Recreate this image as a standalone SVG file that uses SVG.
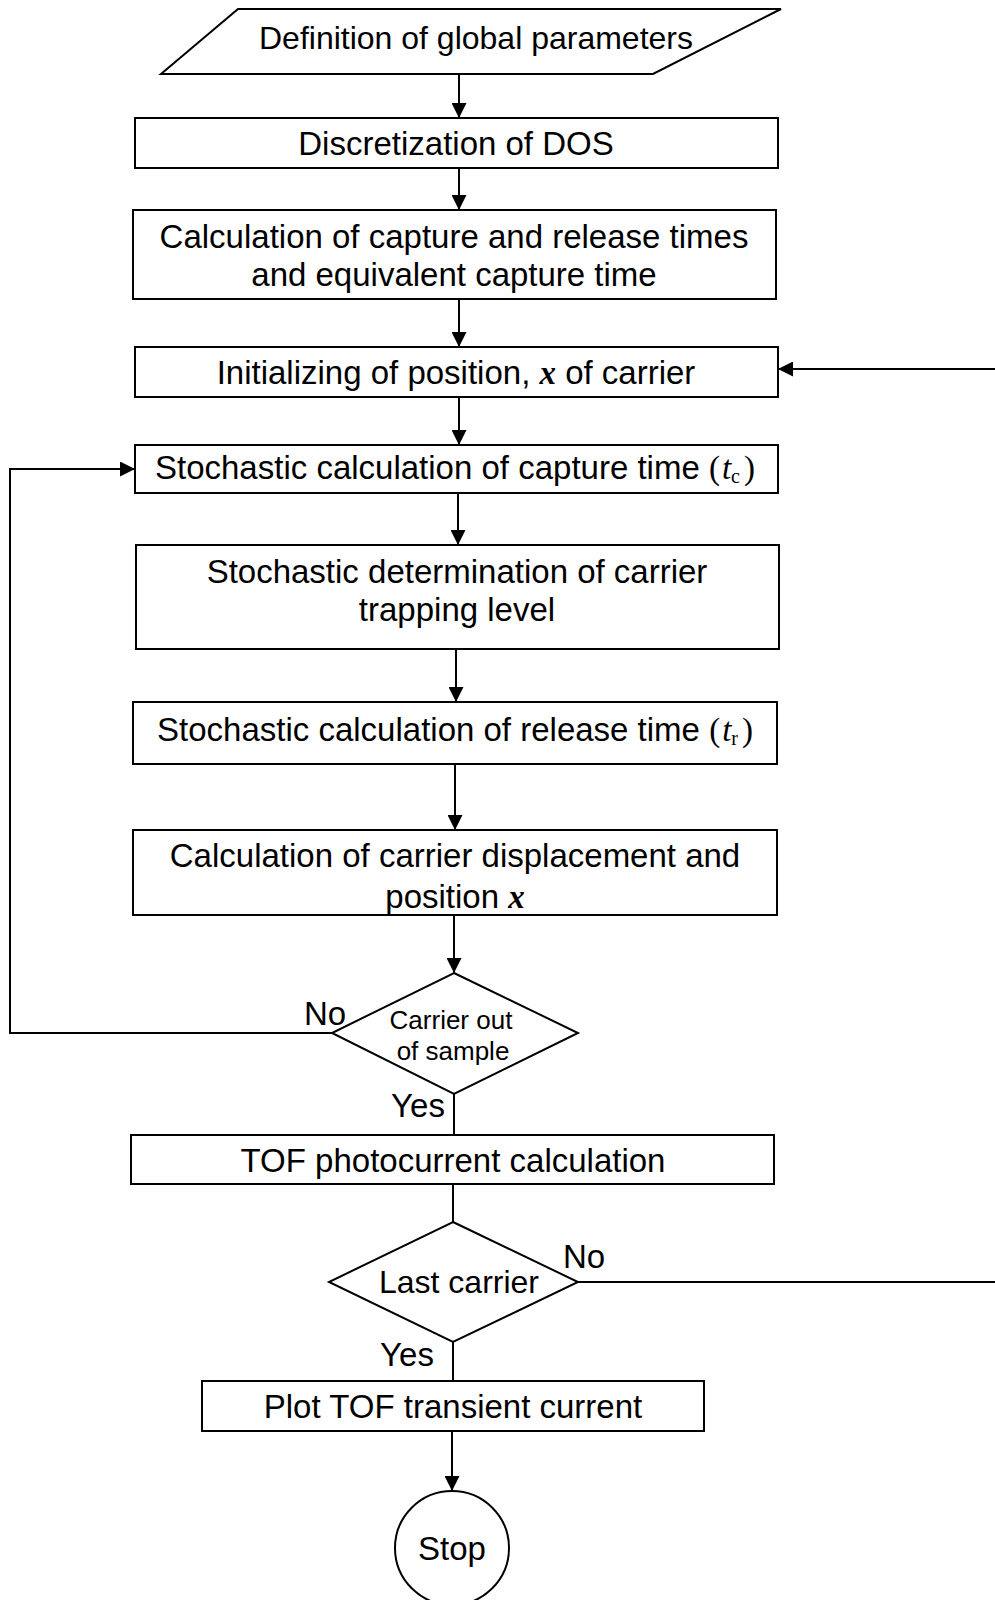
<svg xmlns="http://www.w3.org/2000/svg" width="995" height="1600" viewBox="0 0 995 1600">
  <style>
    .box { fill: #fff; stroke: #000; stroke-width: 2; }
    .line { fill: none; stroke: #000; stroke-width: 2; }
    .arrow { fill: none; stroke: #000; stroke-width: 2; marker-end: url(#head); }
    text { font-family: "Liberation Sans", Arial, sans-serif; font-size: 33px; fill: #000; text-anchor: middle; }
    .small { font-size: 26px; }
    .var { font-family: "Liberation Serif", "Times New Roman", serif; font-style: italic; font-weight: bold; }
    .mvar { font-family: "Liberation Serif", "Times New Roman", serif; font-style: italic; }
    .msub { font-family: "Liberation Serif", "Times New Roman", serif; font-size: 20px; }
    .paren { font-family: "Liberation Serif", "Times New Roman", serif; }
  </style>
  <defs>
    <marker id="head" markerWidth="15" markerHeight="15" refX="15" refY="7.5" orient="auto" markerUnits="userSpaceOnUse">
      <path d="M0,0 L15,7.5 L0,15 Z" fill="#000"/>
    </marker>
  </defs>

  <rect width="995" height="1600" fill="#fff"/>

  <!-- connectors -->
  <g id="connectors">
    <line class="arrow" x1="459" y1="74" x2="459" y2="118"/>
    <line class="arrow" x1="459" y1="168" x2="459" y2="210"/>
    <line class="arrow" x1="459" y1="299" x2="459" y2="347"/>
    <line class="arrow" x1="459" y1="397" x2="459" y2="445"/>
    <line class="arrow" x1="458" y1="493" x2="458" y2="545"/>
    <line class="arrow" x1="456" y1="649" x2="456" y2="702"/>
    <line class="arrow" x1="455" y1="764" x2="455" y2="830"/>
    <line class="arrow" x1="454" y1="915" x2="454" y2="973"/>
    <line class="line" x1="454" y1="1094" x2="454" y2="1135"/>
    <line class="line" x1="453" y1="1184" x2="453" y2="1222"/>
    <line class="line" x1="453" y1="1342" x2="453" y2="1381"/>
    <line class="arrow" x1="452" y1="1431" x2="452" y2="1491"/>
    <!-- "No" branch back to the capture-time step -->
    <polyline class="arrow" points="332,1033 10,1033 10,469 135,469"/>
    <!-- "No" branch back to carrier initialisation -->
    <line class="line" x1="578" y1="1282" x2="995" y2="1282"/>
    <line class="arrow" x1="995" y1="369" x2="778" y2="369"/>
  </g>

  <g id="n-params">
    <polygon class="box" points="238,9 781,9 653,74 161,74"/>
    <text x="476" y="49" style="font-size:32px">Definition of global parameters</text>
  </g>

  <g id="n-dos">
    <rect class="box" x="135" y="118" width="643" height="50"/>
    <text x="456" y="155">Discretization of DOS</text>
  </g>

  <g id="n-times">
    <rect class="box" x="133" y="210" width="643" height="89"/>
    <text x="454" y="248">Calculation of capture and release times</text>
    <text x="454" y="286">and equivalent capture time</text>
  </g>

  <g id="n-init">
    <rect class="box" x="135" y="347" width="643" height="50"/>
    <text x="456" y="384">Initializing of position, <tspan class="var">x</tspan> of carrier</text>
  </g>

  <g id="n-capture">
    <rect class="box" x="135" y="445" width="643" height="48"/>
    <text x="455" y="479">Stochastic calculation of capture time <tspan class="paren">(</tspan><tspan class="mvar" dx="2">t</tspan><tspan class="msub" dy="4">c</tspan><tspan class="paren" dy="-4" dx="4">)</tspan></text>
  </g>

  <g id="n-level">
    <rect class="box" x="136" y="545" width="643" height="104"/>
    <text x="457" y="583">Stochastic determination of carrier</text>
    <text x="457" y="621">trapping level</text>
  </g>

  <g id="n-release">
    <rect class="box" x="133" y="702" width="644" height="62"/>
    <text x="455" y="741">Stochastic calculation of release time <tspan class="paren">(</tspan><tspan class="mvar" dx="2">t</tspan><tspan class="msub" dy="4">r</tspan><tspan class="paren" dy="-4" dx="4">)</tspan></text>
  </g>

  <g id="n-displacement">
    <rect class="box" x="133" y="830" width="644" height="85"/>
    <text x="455" y="867">Calculation of carrier displacement and</text>
    <text x="455" y="908">position <tspan class="var">x</tspan></text>
  </g>

  <g id="n-out">
    <polygon class="box" points="454,973 578,1033 454,1094 332,1033"/>
    <text class="small" x="451" y="1029">Carrier out</text>
    <text class="small" x="453" y="1060">of sample</text>
    <text x="325" y="1025">No</text>
    <text x="418" y="1117">Yes</text>
  </g>

  <g id="n-photocurrent">
    <rect class="box" x="131" y="1135" width="643" height="49"/>
    <text x="453" y="1172">TOF photocurrent calculation</text>
  </g>

  <g id="n-last">
    <polygon class="box" points="453,1222 578,1282 453,1342 329,1282"/>
    <text x="459" y="1293" style="font-size:32px">Last carrier</text>
    <text x="584" y="1268">No</text>
    <text x="407" y="1366">Yes</text>
  </g>

  <g id="n-plot">
    <rect class="box" x="202" y="1381" width="502" height="50"/>
    <text x="453" y="1418">Plot TOF transient current</text>
  </g>

  <g id="n-stop">
    <circle class="box" cx="452" cy="1548" r="57"/>
    <text x="452" y="1560">Stop</text>
  </g>
</svg>
